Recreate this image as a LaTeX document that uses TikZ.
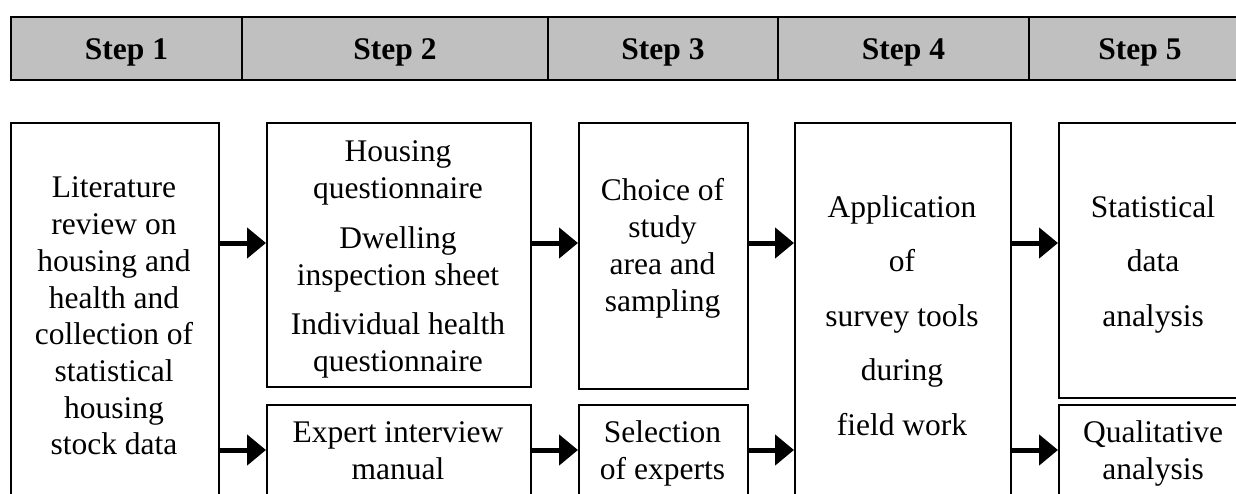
\documentclass[tikz,border=0pt]{standalone}
\usepackage{fontspec}
\setmainfont{Liberation Serif}
\usetikzlibrary{arrows.meta}
\definecolor{hdrgray}{HTML}{C0C0C0}
\tikzset{
  hdrcell/.style={draw=black, line width=2pt, fill=hdrgray, anchor=north west,
    minimum height=63pt, inner sep=0pt, text height=24pt, text depth=3pt,
    font=\fontsize{31.5}{36.7}\selectfont\bfseries},
  stagebox/.style={draw=black, line width=1.5pt, anchor=north west, inner sep=0pt},
  stagetext/.style={align=center, inner sep=0pt, font=\fontsize{31.5}{36.7}\selectfont},
  widetext/.style={align=center, inner sep=0pt, font=\fontsize{31.5}{54.5}\selectfont},
  flow/.style={line width=5pt, -{Triangle[length=19pt,width=30pt]}},
}
\begin{document}
\begin{tikzpicture}[x=1pt,y=-1pt]
\clip (0,0) rectangle (1236,493);
\fill[white] (0,0) rectangle (1236,493);
% header
\node[hdrcell, minimum width=231pt] (h1) at (10,16) {Step 1};
\node[hdrcell, minimum width=306pt] (h2) at (241,16) {Step 2};
\node[hdrcell, minimum width=230pt] (h3) at (547,16) {Step 3};
\node[hdrcell, minimum width=251pt] (h4) at (777,16) {Step 4};
\node[hdrcell, minimum width=222pt] (h5) at (1028,16) {Step 5};
% boxes
\node[stagebox, minimum width=208pt, minimum height=394pt] (b1) at (10,122) {};
\node[stagebox, minimum width=264pt, minimum height=264pt] (b2a) at (266,122) {};
\node[stagebox, minimum width=264pt, minimum height=92pt] (b2b) at (266,404) {};
\node[stagebox, minimum width=169pt, minimum height=266pt] (b3a) at (578,122) {};
\node[stagebox, minimum width=169pt, minimum height=92pt] (b3b) at (578,404) {};
\node[stagebox, minimum width=216pt, minimum height=394pt] (b4) at (794,122) {};
\node[stagebox, minimum width=192pt, minimum height=275pt] (b5a) at (1058,122) {};
\node[stagebox, minimum width=192pt, minimum height=92pt] (b5b) at (1058,404) {};
% texts
\node[stagetext] (t1) at (114,319.1) {\strut Literature\\\strut review on\\\strut housing and\\\strut health and\\\strut collection of\\\strut statistical\\\strut housing\\\strut stock data};
\node[stagetext] (t2a) at (398,259.4) {\strut Housing\\\strut questionnaire\\[13pt]\strut Dwelling\\\strut inspection sheet\\[13pt]\strut Individual health\\\strut questionnaire};
\node[stagetext] (t2b) at (398,454) {\strut Expert interview\\\strut manual};
\node[stagetext] (t3a) at (662.5,248.7) {\strut Choice of\\\strut study\\\strut area and\\\strut sampling};
\node[stagetext] (t3b) at (662.5,454) {\strut Selection\\\strut of experts};
\node[widetext] (t4) at (902,315.1) {\strut Application\\\strut of\\\strut survey tools\\\strut during\\\strut field work};
\node[widetext] (t5a) at (1153,260.6) {\strut Statistical\\\strut data\\\strut analysis};
\node[stagetext] (t5b) at (1153,454) {\strut Qualitative\\\strut analysis};
% arrows
\coordinate (rowA) at (0,243);
\coordinate (rowB) at (0,450);
\draw[flow] (b1.east |- rowA) -- (b2a.west |- rowA);
\draw[flow] (b1.east |- rowB) -- (b2b.west |- rowB);
\draw[flow] (b2a.east |- rowA) -- (b3a.west |- rowA);
\draw[flow] (b2b.east |- rowB) -- (b3b.west |- rowB);
\draw[flow] (b3a.east |- rowA) -- (b4.west |- rowA);
\draw[flow] (b3b.east |- rowB) -- (b4.west |- rowB);
\draw[flow] (b4.east |- rowA) -- (b5a.west |- rowA);
\draw[flow] (b4.east |- rowB) -- (b5b.west |- rowB);
\end{tikzpicture}
\end{document}
